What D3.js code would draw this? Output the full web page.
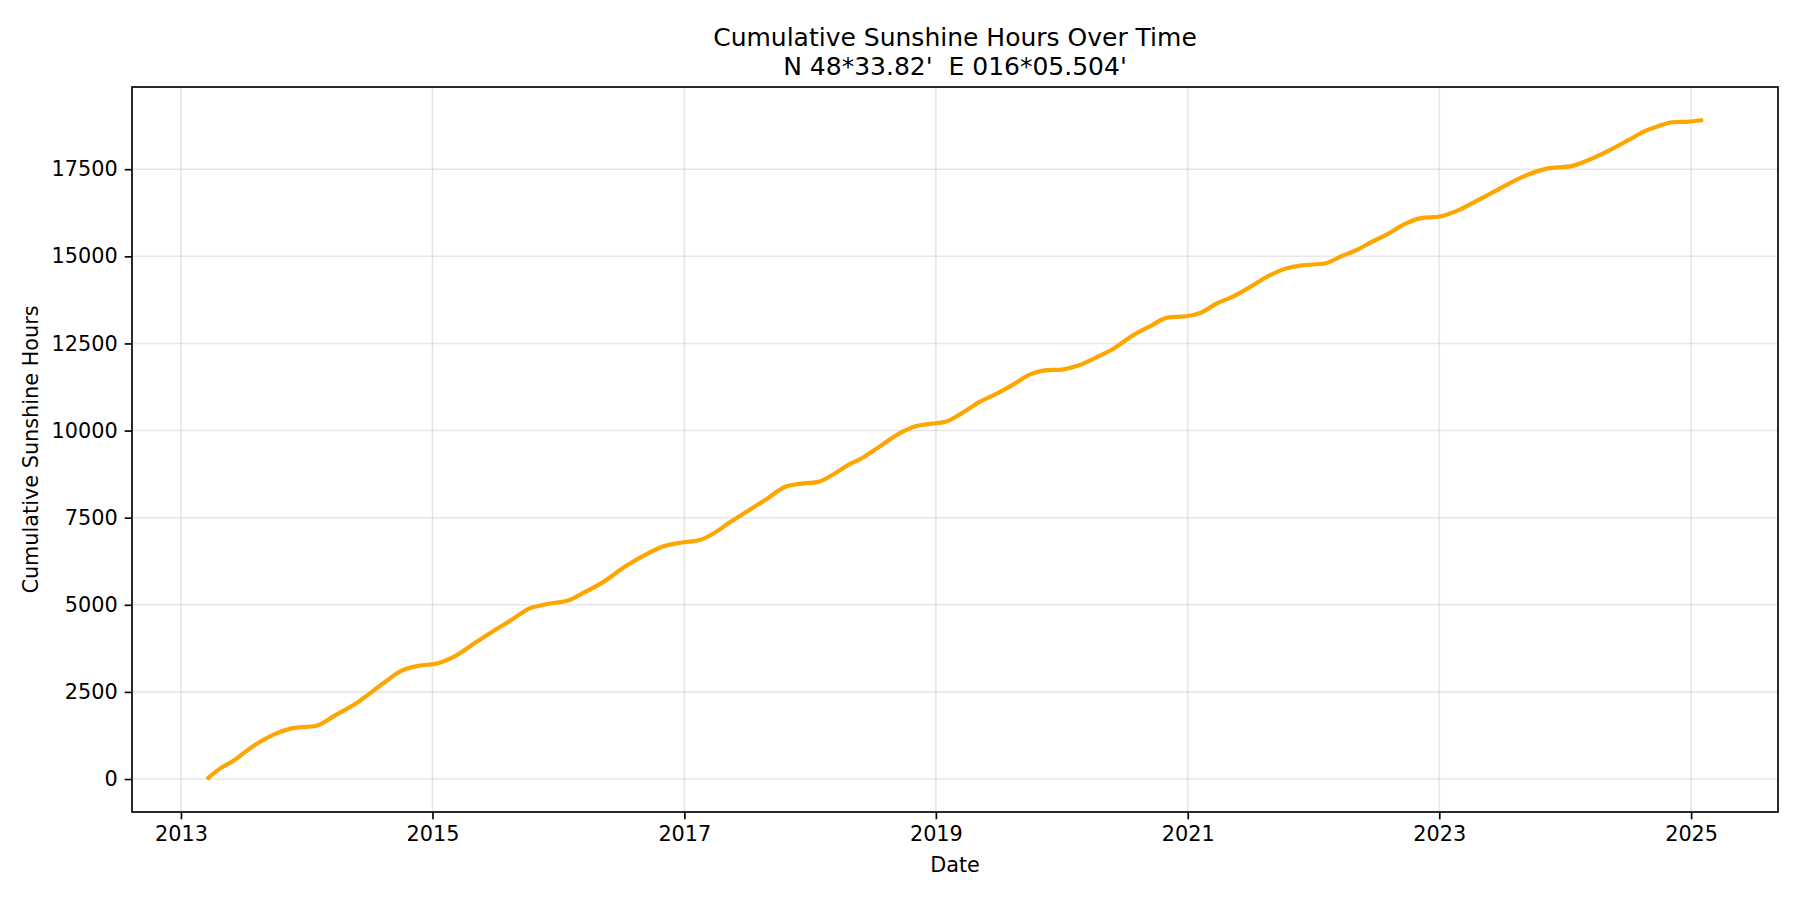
<!DOCTYPE html>
<html>
<head>
<meta charset="utf-8">
<script src="https://cdn.jsdelivr.net/npm/d3@7"></script>
<style>
  html, body { margin: 0; padding: 0; background: #fff; }
  svg { display: block; font-family: "DejaVu Sans", sans-serif; }
  text { white-space: pre; }
</style>
</head>
<body>
<svg id="chart" width="1800" height="900"></svg>
<script>
const titleLines = ["Cumulative Sunshine Hours Over Time", "N 48*33.82'  E 016*05.504'"];
const xLabel = "Date";
const yLabel = "Cumulative Sunshine Hours";

const dates = [
  "2013-03-17","2013-05-07","2013-05-26","2013-07-24","2013-09-30","2013-11-18",
  "2014-01-29","2014-03-22","2014-05-28","2014-08-14","2014-10-02","2014-11-20",
  "2015-01-17","2015-03-09","2015-05-06","2015-07-13","2015-08-21","2015-10-04","2015-11-26",
  "2016-02-03","2016-03-11","2016-05-08","2016-07-15","2016-09-12","2016-10-29","2016-12-21",
  "2017-02-14","2017-03-22","2017-05-14","2017-07-11","2017-08-29","2017-10-21","2017-11-25",
  "2018-01-22","2018-03-09","2018-04-27","2018-05-25","2018-07-23","2018-09-20","2018-11-03","2018-12-15",
  "2019-01-28","2019-03-11","2019-05-08","2019-06-25","2019-08-13","2019-09-30","2019-11-09",
  "2020-01-06","2020-02-18","2020-04-11","2020-05-29","2020-07-26","2020-09-13","2020-11-06","2020-12-28",
  "2021-02-04","2021-03-29","2021-05-07","2021-07-04","2021-08-21","2021-10-18","2021-11-26",
  "2022-02-03","2022-03-21","2022-05-08","2022-06-16","2022-08-04","2022-09-22","2022-11-09",
  "2023-01-02","2023-02-28","2023-04-25","2023-06-23","2023-08-29","2023-11-06",
  "2024-01-22","2024-03-10","2024-05-07","2024-07-04","2024-08-21","2024-09-29","2024-11-08","2024-12-25",
  "2025-02-05"
];
const hours = [
  0, 381, 478, 908, 1289, 1453,
  1528, 1814, 2198, 2771, 3104, 3247,
  3324, 3534, 3917, 4347, 4585, 4871, 5015,
  5139, 5330, 5637, 6113, 6448, 6668, 6782,
  6858, 7021, 7374, 7737, 8044, 8387, 8463,
  8520, 8740, 9046, 9170, 9551, 9933, 10125, 10193,
  10250, 10459, 10823, 11052, 11319, 11606, 11720,
  11758, 11864, 12102, 12342, 12732, 12990, 13248, 13280,
  13365, 13660, 13820, 14136, 14423, 14663, 14738,
  14795, 14996, 15188, 15397, 15638, 15924, 16096,
  16142, 16334, 16620, 16927, 17271, 17509,
  17595, 17767, 18033, 18340, 18598, 18741, 18847, 18864,
  18913
];
const yTicks = [0, 2500, 5000, 7500, 10000, 12500, 15000, 17500];
const xTickYears = [2013, 2015, 2017, 2019, 2021, 2023, 2025];

const parse = d3.timeParse("%Y-%m-%d");
const data = dates.map((d, i) => ({ date: parse(d), value: hours[i] }));

const svg = d3.select("#chart");
const W = 1800, H = 900;
const m = { left: 132, top: 87, right: 1800 - 1778, bottom: 900 - 812 };
const pw = W - m.left - m.right, ph = H - m.top - m.bottom;

const xExt = d3.extent(data, d => d.date);
const xPad = (xExt[1] - xExt[0]) * 0.05;
const x = d3.scaleTime()
  .domain([new Date(+xExt[0] - xPad), new Date(+xExt[1] + xPad)])
  .range([m.left, m.left + pw]);
const yExt = d3.extent(data, d => d.value);
const yPad = (yExt[1] - yExt[0]) * 0.05;
const y = d3.scaleLinear()
  .domain([yExt[0] - yPad, yExt[1] + yPad])
  .range([m.top + ph, m.top]);

const xTicks = xTickYears.map(yr => new Date(yr, 0, 1));
const fs = 20.8;

// grid
const grid = svg.append("g");
grid.selectAll("line.vx").data(xTicks).join("line")
  .attr("x1", d => x(d)).attr("x2", d => x(d))
  .attr("y1", m.top).attr("y2", m.top + ph)
  .attr("stroke", "#b0b0b0").attr("stroke-opacity", 0.3).attr("stroke-width", 1.6);
grid.selectAll("line.hy").data(yTicks).join("line")
  .attr("x1", m.left).attr("x2", m.left + pw)
  .attr("y1", d => y(d)).attr("y2", d => y(d))
  .attr("stroke", "#b0b0b0").attr("stroke-opacity", 0.3).attr("stroke-width", 1.6);

// line
svg.append("path").datum(data)
  .attr("fill", "none")
  .attr("stroke", "#FFA500")
  .attr("stroke-width", 4.2)
  .attr("stroke-linejoin", "round")
  .attr("stroke-linecap", "butt")
  .attr("d", d3.line().x(d => x(d.date)).y(d => y(d.value)).curve(d3.curveMonotoneX));

// axes
const xAxis = svg.append("g").attr("transform", `translate(0,${m.top + ph})`)
  .call(d3.axisBottom(x).tickValues(xTicks).tickFormat(d3.timeFormat("%Y")).tickSize(7.3).tickPadding(7));
const yAxis = svg.append("g").attr("transform", `translate(${m.left},0)`)
  .call(d3.axisLeft(y).tickValues(yTicks).tickFormat(d3.format("d")).tickSize(7.3).tickPadding(7));
[xAxis, yAxis].forEach(a => {
  a.select(".domain").remove();
  a.selectAll(".tick line").attr("stroke", "#000").attr("stroke-width", 1.67);
  a.selectAll(".tick text").attr("font-size", fs).attr("fill", "#000")
    .attr("font-family", "DejaVu Sans");
});

// frame
svg.append("rect").attr("x", m.left).attr("y", m.top).attr("width", pw).attr("height", ph)
  .attr("fill", "none").attr("stroke", "#000").attr("stroke-width", 1.67);

// titles
const cx = m.left + pw / 2;
svg.append("text").attr("x", cx).attr("y", 46).attr("text-anchor", "middle")
  .attr("font-size", 25).text(titleLines[0]);
svg.append("text").attr("x", cx).attr("y", 75).attr("text-anchor", "middle")
  .attr("font-size", 25).attr("xml:space", "preserve").text(titleLines[1]);
svg.append("text").attr("x", cx).attr("y", 872).attr("text-anchor", "middle")
  .attr("font-size", fs).text(xLabel);
svg.append("text").attr("transform", `translate(38,${m.top + ph / 2}) rotate(-90)`)
  .attr("text-anchor", "middle").attr("font-size", fs).text(yLabel);
</script>
</body>
</html>
